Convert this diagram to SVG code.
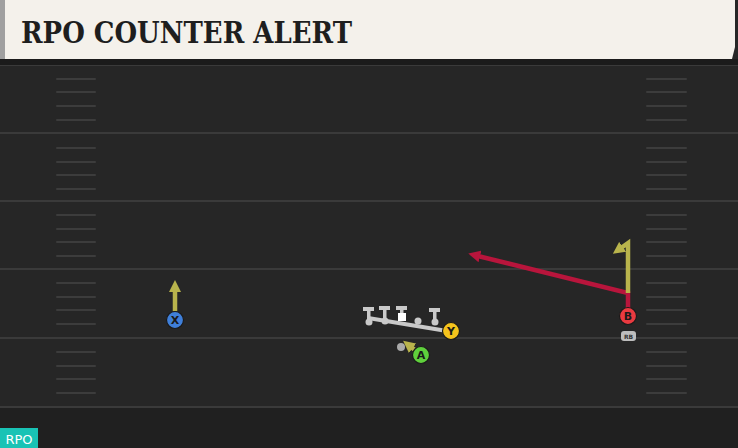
<svg xmlns="http://www.w3.org/2000/svg" width="738" height="448" viewBox="0 0 738 448">
<defs>
<style>
.yard{stroke:#3a3a3a;stroke-width:2}
.hash{stroke:#3c3c3c;stroke-width:2;stroke-linecap:round}
.route{fill:none;stroke:#b9b44c;stroke-width:4.5}
.run{fill:none;stroke:#b8153c;stroke-width:4.5}
.lbl{font-family:"DejaVu Sans",sans-serif;font-weight:bold;font-size:11px;fill:#1a1a1a;text-anchor:middle}
.ol{fill:#c9c9c9}
.pc{stroke:#1a1a1a;stroke-width:1.2}
</style>
<marker id="ay" markerUnits="userSpaceOnUse" markerWidth="13" markerHeight="13" refX="2" refY="6.5" orient="auto" viewBox="0 0 13 13">
<path d="M0,0.5 L12,6.5 L0,12.5 Z" fill="#b9b44c"/>
</marker>
<marker id="ar" markerUnits="userSpaceOnUse" markerWidth="13" markerHeight="13" refX="2" refY="6.5" orient="auto" viewBox="0 0 13 13">
<path d="M0,0.5 L12,6.5 L0,12.5 Z" fill="#b8153c"/>
</marker>
</defs>
<rect width="738" height="448" fill="#262626"/>
<rect y="407" width="738" height="41" fill="#202020"/>
<g id="field">
<line class="yard" x1="0" y1="65" x2="738" y2="65"/>
<line class="yard" x1="0" y1="133" x2="738" y2="133"/>
<line class="yard" x1="0" y1="201" x2="738" y2="201"/>
<line class="yard" x1="0" y1="269" x2="738" y2="269"/>
<line class="yard" x1="0" y1="338" x2="738" y2="338"/>
<line class="yard" x1="0" y1="407" x2="738" y2="407"/>
<g id="hashes">
<path class="hash" d="M57,79H95M57,92H95M57,106H95M57,120H95M57,148H95M57,162H95M57,175H95M57,189H95M57,215H95M57,229H95M57,242H95M57,256H95M57,283H95M57,297H95M57,310H95M57,324H95M57,352H95M57,366H95M57,379H95M57,393H95"/>
<path class="hash" d="M647,79H686M647,92H686M647,106H686M647,120H686M647,148H686M647,162H686M647,175H686M647,189H686M647,215H686M647,229H686M647,242H686M647,256H686M647,283H686M647,297H686M647,310H686M647,324H686M647,352H686M647,366H686M647,379H686M647,393H686"/>
</g>
</g>
<g id="banner">
<rect x="0" y="59" width="738" height="6" fill="#1b1b1b"/>
<path d="M0,0 H735 V47 L732,59 H0 Z" fill="#f4f1eb"/>
<rect x="0" y="0" width="5" height="59" fill="#a0a0a0"/>
<text x="21" y="43" font-family="'DejaVu Serif',serif" font-weight="bold" font-size="29" fill="#1e1e1e" textLength="331" lengthAdjust="spacingAndGlyphs">RPO COUNTER ALERT</text>
</g>
<g id="qb"><circle cx="401" cy="347" r="4" fill="#aaaaaa"/></g>
<g id="connectors">
<path class="run" d="M628,316 V293 L478,256" marker-end="url(#ar)"/>
<path class="route" d="M628,293 V243 L621,248" marker-end="url(#ay)"/>
<path class="route" d="M175,311 V290" marker-end="url(#ay)"/>
<path class="route" d="M420,354 L411,347" marker-end="url(#ay)"/>
<line x1="368" y1="318" x2="447" y2="331" stroke="#c9c9c9" stroke-width="4"/>
</g>
<g id="line">
<g id="lt"><rect class="ol" x="363" y="307" width="11" height="4"/><rect class="ol" x="367" y="310" width="3.5" height="10"/><circle class="ol" cx="369" cy="322" r="3.5"/></g>
<g id="lg"><rect class="ol" x="379" y="306" width="11" height="4"/><rect class="ol" x="383" y="309" width="3.5" height="10"/><circle class="ol" cx="385" cy="321" r="3.5"/></g>
<g id="c"><rect class="ol" x="396" y="306" width="11" height="4"/><rect class="ol" x="400" y="309" width="3.5" height="6"/><rect x="398" y="313" width="8" height="8" fill="#ffffff"/></g>
<g id="rg"><circle class="ol" cx="418" cy="321" r="3.5"/></g>
<g id="rt"><rect class="ol" x="429" y="308" width="11" height="4"/><rect class="ol" x="433" y="311" width="3.5" height="9"/><circle class="ol" cx="435" cy="322" r="3.5"/></g>
</g>
<g id="X"><circle class="pc" cx="175" cy="320" r="8.5" fill="#3f7fd9"/><text class="lbl" x="175" y="324">X</text></g>
<g id="Y"><circle class="pc" cx="451" cy="331" r="8.5" fill="#f4c31c"/><text class="lbl" x="451" y="335">Y</text></g>
<g id="A"><circle class="pc" cx="421" cy="355" r="8.5" fill="#5fd03c"/><text class="lbl" x="421" y="359">A</text></g>
<g id="B"><circle class="pc" cx="628" cy="316" r="8.5" fill="#e93a40"/><text class="lbl" x="628" y="320">B</text></g>
<g id="RB"><rect x="621" y="331" width="15" height="10" rx="3" fill="#bdbdbd"/><text x="628.5" y="339" font-family="'DejaVu Sans',sans-serif" font-size="6" font-weight="bold" fill="#333" text-anchor="middle">RB</text></g>
<g id="tag"><rect x="0" y="428" width="38" height="20" fill="#19c3b5"/><text x="19" y="444" font-family="'DejaVu Sans',sans-serif" font-size="13" fill="#ffffff" text-anchor="middle">RPO</text></g>
</svg>
